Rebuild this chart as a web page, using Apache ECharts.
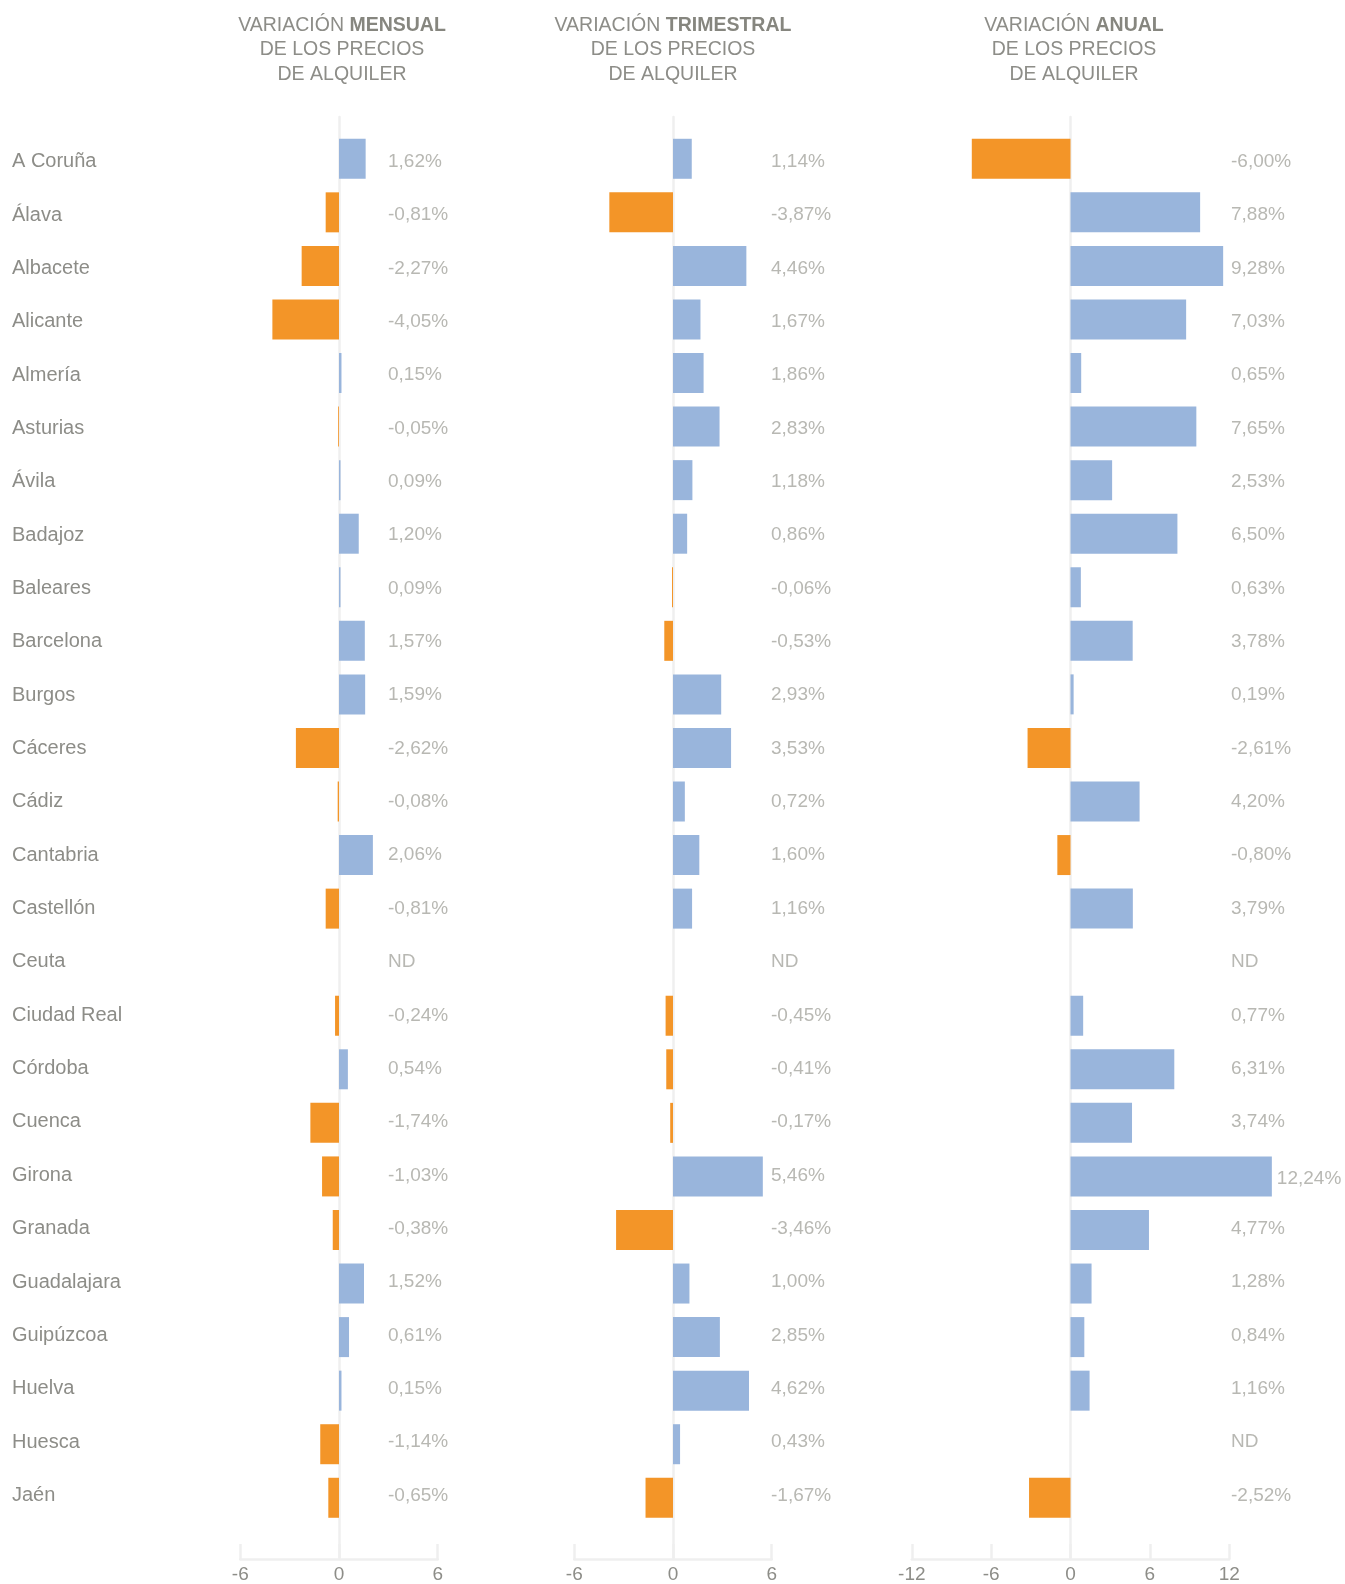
<!DOCTYPE html>
<html>
<head>
<meta charset="utf-8">
<script src="https://cdn.jsdelivr.net/npm/echarts@6/dist/echarts.min.js"></script>
<style>
html, body { margin: 0; padding: 0; background: #fff; }
#chart { width: 1345px; height: 1584px; }
</style>
</head>
<body>
<div id="chart"></div>
<script>
// datos
var provincias = ['A Coruña', 'Álava', 'Albacete', 'Alicante', 'Almería', 'Asturias', 'Ávila', 'Badajoz',
    'Baleares', 'Barcelona', 'Burgos', 'Cáceres', 'Cádiz', 'Cantabria', 'Castellón', 'Ceuta',
    'Ciudad Real', 'Córdoba', 'Cuenca', 'Girona', 'Granada', 'Guadalajara', 'Guipúzcoa', 'Huelva',
    'Huesca', 'Jaén'];
var mensual = [1.62, -0.81, -2.27, -4.05, 0.15, -0.05, 0.09, 1.20, 0.09, 1.57, 1.59, -2.62, -0.08,
    2.06, -0.81, null, -0.24, 0.54, -1.74, -1.03, -0.38, 1.52, 0.61, 0.15, -1.14, -0.65];
var trimestral = [1.14, -3.87, 4.46, 1.67, 1.86, 2.83, 1.18, 0.86, -0.06, -0.53, 2.93, 3.53, 0.72,
    1.60, 1.16, null, -0.45, -0.41, -0.17, 5.46, -3.46, 1.00, 2.85, 4.62, 0.43, -1.67];
var anual = [-6.00, 7.88, 9.28, 7.03, 0.65, 7.65, 2.53, 6.50, 0.63, 3.78, 0.19, -2.61, 4.20,
    -0.80, 3.79, null, 0.77, 6.31, 3.74, 12.24, 4.77, 1.28, 0.84, 1.16, null, -2.52];
var ticksMensual = [-6, 0, 6];
var ticksTrimestral = [-6, 0, 6];
var ticksAnual = [-12, -6, 0, 6, 12];

var AZUL = '#99b5dc', NARANJA = '#f39528';
var GRIS = '#8d8d88', GRIS_CLARO = '#b8b8b3', LINEA = '#efefef';
var FUENTE = "'Liberation Sans', Arial, sans-serif";
var PX = 16.45;          // pixeles por punto porcentual en las barras
var TOP = 132, FILA = 53.56;
var TOP_TEXTO = 135, FILA_TEXTO = 53.35;   // las filas de texto van un pelin mas juntas

var paneles = [
    { datos: mensual, ticks: ticksMensual, cero: 339, medio: 98.7, colX: 388, tituloX: 337, nombre: 'MENSUAL' },
    { datos: trimestral, ticks: ticksTrimestral, cero: 673, medio: 98.7, colX: 771, tituloX: 668, nombre: 'TRIMESTRAL' },
    { datos: anual, ticks: ticksAnual, cero: 1070.5, medio: 158.7, colX: 1231, tituloX: 1069, nombre: 'ANUAL' }
];

function fmt(v) {
    if (v == null) return 'ND';
    return v.toFixed(2).replace('.', ',') + '%';
}

var grid = [], xAxis = [], yAxis = [], series = [], title = [];

paneles.forEach(function (p, i) {
    var izq = p.cero - 12 * PX;
    var der = p.colX - 8;
    var tapa = function (v) { return v != null && v > 0 && p.cero + v * PX + 5 > p.colX; };

    // grid de barras
    var gb = grid.length;
    grid.push({ left: izq, top: TOP, width: der - izq, height: FILA * provincias.length });
    xAxis.push({ type: 'value', gridIndex: gb, min: -12, max: (der - p.cero) / PX, show: false });
    var xi = xAxis.length - 1;
    yAxis.push({ type: 'category', gridIndex: gb, data: provincias, inverse: true, show: false });
    var yi = yAxis.length - 1;
    series.push({
        type: 'bar', xAxisIndex: xi, yAxisIndex: yi,
        barWidth: 40, clip: false,
        data: p.datos.map(function (v) {
            return {
                value: v,
                itemStyle: { color: v < 0 ? NARANJA : AZUL },
                label: {
                    show: tapa(v), position: 'right', distance: 5, offset: [0, 2],
                    color: GRIS_CLARO, fontSize: 19, fontFamily: FUENTE,
                    formatter: function () { return fmt(v); }
                }
            };
        })
    });

    // grid de textos (provincias y valores)
    var gt = grid.length;
    grid.push({ left: izq, top: TOP_TEXTO, width: der - izq, height: FILA_TEXTO * provincias.length });
    xAxis.push({ type: 'value', gridIndex: gt, min: 0, max: 1, show: false });
    yAxis.push({
        type: 'category', gridIndex: gt, data: provincias, inverse: true,
        axisLine: { show: false }, axisTick: { show: false }, splitLine: { show: false },
        axisLabel: {
            show: i === 0, align: 'left', margin: izq - 12,
            color: GRIS, fontSize: 20, fontFamily: FUENTE
        }
    });
    yAxis.push({
        type: 'category', gridIndex: gt, data: provincias, inverse: true, position: 'right',
        axisLine: { show: false }, axisTick: { show: false }, splitLine: { show: false },
        axisLabel: {
            margin: 8, align: 'left', color: GRIS_CLARO, fontSize: 19, fontFamily: FUENTE,
            formatter: function (val, idx) { return tapa(p.datos[idx]) ? '' : fmt(p.datos[idx]); }
        }
    });

    // grid del eje inferior y linea de cero
    var ge = grid.length;
    grid.push({ left: p.cero - p.medio, top: 117, width: 2 * p.medio, height: 1560 - 117 });
    xAxis.push({
        type: 'value', gridIndex: ge, position: 'bottom',
        min: p.ticks[0], max: p.ticks[p.ticks.length - 1], interval: p.ticks[1] - p.ticks[0],
        axisLine: { onZero: false, lineStyle: { color: LINEA, width: 2.5 } },
        axisTick: { inside: true, length: 15, lineStyle: { color: LINEA, width: 2.5 } },
        axisLabel: { color: GRIS, fontSize: 19, fontFamily: FUENTE, margin: 6 },
        splitLine: { show: false }
    });
    yAxis.push({
        type: 'value', gridIndex: ge, min: 0, max: 1,
        axisLine: { show: true, onZero: true, lineStyle: { color: LINEA, width: 2.5 } },
        axisTick: { show: false }, axisLabel: { show: false }, splitLine: { show: false }
    });

    title.push({
        text: '{n|VARIACIÓN }{b|' + p.nombre + '}\n{n|DE LOS PRECIOS}\n{n|DE ALQUILER}',
        left: p.tituloX, top: 8, textAlign: 'center',
        textStyle: {
            lineHeight: 24.5, fontWeight: 'normal',
            rich: {
                n: { color: GRIS, fontSize: 19.5, fontWeight: 'normal', fontFamily: FUENTE, lineHeight: 24.5 },
                b: { color: '#86867f', fontSize: 19.5, fontWeight: 'bold', fontFamily: FUENTE, lineHeight: 24.5 }
            }
        }
    });
});

var chart = echarts.init(document.getElementById('chart'));
chart.setOption({
    animation: false,
    title: title,
    grid: grid,
    xAxis: xAxis,
    yAxis: yAxis,
    series: series
});
window.onresize = function () { chart.resize(); };
</script>
</body>
</html>
